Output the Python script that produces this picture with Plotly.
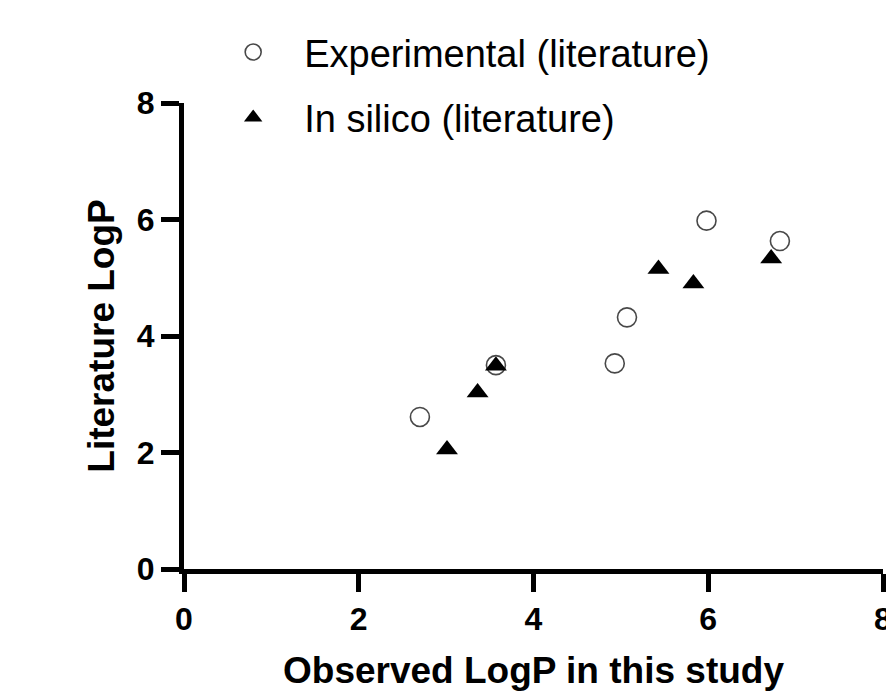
import plotly.graph_objects as go

# Experimental (literature) LogP vs observed
exp_x = [2.70, 3.57, 4.93, 5.07, 5.98, 6.82]
exp_y = [2.61, 3.50, 3.53, 4.32, 5.98, 5.63]

# In silico (literature) LogP vs observed
sil_x = [3.01, 3.36, 3.57, 5.43, 5.83, 6.72]
sil_y = [2.05, 3.03, 3.49, 5.15, 4.90, 5.33]

tick_vals = [0, 2, 4, 6, 8]
tick_text = ["0", "2", "4", "6", "8"]

FONT = "Liberation Sans, Arial, sans-serif"

fig = go.Figure()
fig.add_trace(go.Scatter(
    x=exp_x, y=exp_y, mode="markers", name="Experimental (literature)",
    legendgroup="a",
    marker=dict(symbol="circle-open", size=19, color="#484848", line=dict(width=1.6, color="#484848")),
))
fig.add_trace(go.Scatter(
    x=sil_x, y=sil_y, mode="markers", name="In silico (literature)",
    legendgroup="b",
    marker=dict(symbol="triangle-up", size=19, color="black"),
))

axis_common = dict(
    range=[0, 8], tickvals=tick_vals, ticktext=tick_text,
    showline=True, linewidth=5, linecolor="black",
    ticks="outside", ticklen=18, tickwidth=5, tickcolor="black",
    showgrid=False, zeroline=False, ticklabeloverflow="allow",
    tickfont=dict(family=FONT, size=32, color="black", weight="bold"),
)

fig.update_layout(
    width=886, height=694,
    margin=dict(l=184, r=3, t=103, b=125, pad=0, autoexpand=False),
    plot_bgcolor="white", paper_bgcolor="white",
    xaxis=dict(**axis_common,
               title=dict(text="<b>Observed LogP in this study</b>", standoff=22,
                          font=dict(family=FONT, size=37, color="black"))),
    yaxis=dict(**axis_common,
               title=dict(text="<b>Literature LogP</b>", standoff=12,
                          font=dict(family=FONT, size=37, color="black"))),
    legend=dict(x=0.026, y=0.97, xanchor="left", yanchor="top",
                xref="paper", yref="container",
                font=dict(family=FONT, size=38, color="black"),
                tracegroupgap=13, itemwidth=92,
                bgcolor="rgba(0,0,0,0)"),
    showlegend=True,
)

fig.write_html("out.html")
